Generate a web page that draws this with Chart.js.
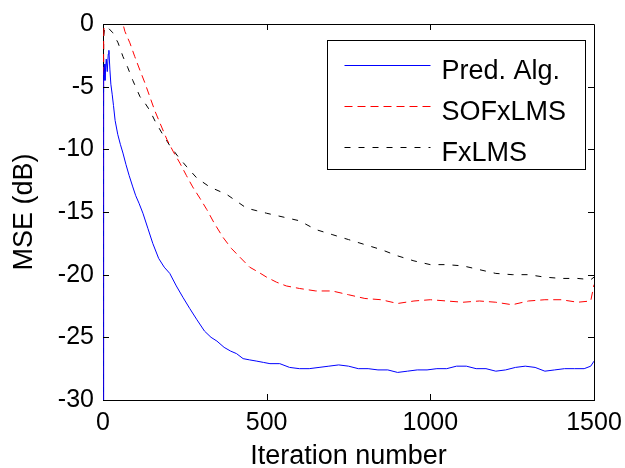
<!DOCTYPE html>
<html>
<head>
<meta charset="utf-8">
<script src="https://cdn.jsdelivr.net/npm/chart.js@4.4.1/dist/chart.umd.min.js"></script>
<style>
  html, body { margin: 0; padding: 0; background: #fff; }
</style>
</head>
<body>
<canvas id="mseChart" width="625" height="468"></canvas>
<script>
const FONT = '"Liberation Sans", Arial, Helvetica, sans-serif';

// Pred. Alg. (blue)
const predIter = [0, 2, 4, 6, 8, 10, 13, 16, 18, 21, 24, 28, 32, 37, 45, 53, 61, 70, 80, 91,
  100, 110, 122, 137, 152, 170, 187, 204, 224, 244, 265, 287, 310, 330, 348, 370, 390, 408,
  428, 448, 470, 490, 510, 540, 570, 600, 630, 660, 690, 720, 750, 780, 810, 840, 870, 900,
  930, 960, 990, 1020, 1050, 1080, 1110, 1140, 1170, 1200, 1230, 1260, 1290, 1320, 1350,
  1380, 1410, 1440, 1470, 1490, 1500];
const predMse = [-30, -4, -3.2, -4.5, -3.5, -2.8, -3.8, -2.4, -2.1, -3.6, -4.8, -5.6, -6.5,
  -7.7, -8.8, -9.6, -10.3, -11.2, -12.1, -13.0, -13.7, -14.3, -15.1, -16.3, -17.5, -18.7,
  -19.4, -19.9, -20.9, -21.8, -22.7, -23.6, -24.5, -25.0, -25.3, -25.8, -26.1, -26.3, -26.7,
  -26.8, -26.9, -27.0, -27.1, -27.1, -27.4, -27.5, -27.5, -27.4, -27.3, -27.2, -27.3, -27.5,
  -27.5, -27.6, -27.6, -27.8, -27.7, -27.6, -27.6, -27.5, -27.5, -27.3, -27.3, -27.5, -27.5,
  -27.7, -27.6, -27.4, -27.3, -27.4, -27.7, -27.6, -27.5, -27.5, -27.5, -27.3, -26.9];

// SOFxLMS (red dashed)
const sofIter = [0, 2, 5, 20, 45, 60, 67, 82, 97, 113, 128, 143, 158, 174, 195, 215, 235, 255,
  274, 296, 317, 340, 366, 392, 418, 448, 475, 500, 530, 560, 600, 650, 700, 750, 800, 850,
  900, 950, 1000, 1050, 1100, 1150, 1200, 1250, 1300, 1350, 1400, 1450, 1490, 1500];
const sofMse = [-30, -1, 1, 1, 0.8, 0.1, -0.6, -1.5, -2.6, -3.7, -4.7, -5.8, -6.9, -7.9, -9.2,
  -10.2, -11.1, -12.1, -13.0, -13.9, -14.8, -15.9, -17.0, -17.9, -18.6, -19.4, -19.8, -20.2,
  -20.6, -20.9, -21.1, -21.3, -21.3, -21.6, -21.9, -22.0, -22.3, -22.1, -22.0, -22.1, -22.2,
  -22.1, -22.2, -22.4, -22.1, -22.0, -22.0, -22.2, -22.1, -20.8];

// FxLMS (black dashed)
const fxIter = [0, 2, 5, 12, 30, 46, 61, 76, 91, 113, 128, 143, 160, 180, 204, 230, 256, 287,
  326, 378, 439, 470, 500, 550, 600, 650, 700, 750, 800, 850, 900, 950, 1000, 1050, 1100,
  1150, 1200, 1250, 1300, 1350, 1400, 1450, 1490, 1500];
const fxMse = [-30, -1, -0.3, -0.2, -0.7, -1.5, -2.6, -3.5, -4.5, -5.8, -6.3, -6.9, -7.8, -8.7,
  -9.7, -10.6, -11.4, -12.3, -13.0, -13.6, -14.7, -14.9, -15.1, -15.4, -15.7, -16.4, -16.8,
  -17.2, -17.6, -18.0, -18.5, -18.9, -19.2, -19.2, -19.3, -19.6, -19.9, -20.0, -20.0, -20.2,
  -20.3, -20.3, -20.4, -20.2];

const toPoints = (xs, ys) => xs.map((x, i) => ({ x: x, y: ys[i] }));

// top/right frame, inward ticks and the boxed legend (MATLAB look)
const framePlugin = {
  id: "frame",
  afterDatasetsDraw(chart) {
    const ctx = chart.ctx;
    const a = chart.chartArea;
    const xs = chart.scales.x;
    const ys = chart.scales.y;
    const seg = (x1, y1, x2, y2) => {
      ctx.beginPath();
      ctx.moveTo(x1, y1);
      ctx.lineTo(x2, y2);
      ctx.stroke();
    };
    ctx.save();
    ctx.strokeStyle = "#000";
    ctx.lineWidth = 1;
    ctx.setLineDash([]);
    const top = Math.round(a.top) + 0.5;
    const right = Math.round(a.right) + 0.5;
    seg(a.left, top, right, top);
    seg(right, top, right, a.bottom);
    xs.ticks.forEach((t) => {
      if (t.value <= xs.min || t.value >= xs.max) return;
      const px = Math.round(xs.getPixelForValue(t.value)) + 0.5;
      seg(px, a.bottom, px, a.bottom - 6);
      seg(px, a.top, px, a.top + 6);
    });
    ys.ticks.forEach((t) => {
      if (t.value <= ys.min || t.value >= ys.max) return;
      const py = Math.round(ys.getPixelForValue(t.value)) + 0.5;
      seg(a.left, py, a.left + 6, py);
      seg(a.right, py, a.right - 6, py);
    });

    // legend
    const w = 258, h = 129;
    const x0 = Math.round(a.right) - 9 - w + 0.5;
    const y0 = Math.round(a.top) + 16 + 0.5;
    ctx.fillStyle = "#fff";
    ctx.fillRect(x0, y0, w, h);
    ctx.strokeRect(x0, y0, w, h);
    ctx.font = "27px " + FONT;
    ctx.textBaseline = "alphabetic";
    ctx.textAlign = "left";
    chart.data.datasets.forEach((ds, i) => {
      const ry = Math.round(y0 + 24 + i * 41) + 0.5;
      ctx.strokeStyle = ds.borderColor;
      ctx.setLineDash(ds.borderDash || []);
      seg(x0 + 17, ry, x0 + 103, ry);
      ctx.setLineDash([]);
      ctx.fillStyle = "#000";
      ctx.fillText(ds.label, x0 + 114, ry + 13);
    });
    ctx.restore();
  },
};

new Chart(document.getElementById("mseChart"), {
  type: "line",
  data: {
    datasets: [
      { label: "Pred. Alg.", data: toPoints(predIter, predMse), borderColor: "#0000ff", borderWidth: 1 },
      { label: "SOFxLMS", data: toPoints(sofIter, sofMse), borderColor: "#ff0000", borderWidth: 1, borderDash: [8, 5] },
      { label: "FxLMS", data: toPoints(fxIter, fxMse), borderColor: "#000000", borderWidth: 1, borderDash: [6, 8] },
    ],
  },
  options: {
    responsive: false,
    animation: false,
    layout: { padding: { top: 24, right: 31, left: 0, bottom: 0 } },
    elements: { point: { radius: 0 }, line: { tension: 0 } },
    plugins: { legend: { display: false }, tooltip: { enabled: false } },
    scales: {
      x: {
        type: "linear",
        min: 0,
        max: 1500,
        grid: { display: false, drawTicks: false },
        border: { color: "#000", width: 1 },
        ticks: {
          stepSize: 500,
          color: "#000",
          padding: 8,
          maxRotation: 0,
          font: { family: FONT, size: 25 },
          callback: (v) => String(v),
        },
        title: {
          display: true,
          text: "Iteration number",
          color: "#000",
          font: { family: FONT, size: 27, lineHeight: 1 },
          padding: { top: 0, bottom: -2 },
        },
        afterFit: (s) => {
          s.height = 68;
          s.paddingLeft = 0;
          s.paddingRight = 0;
        },
      },
      y: {
        min: -30,
        max: 0,
        grid: { display: false, drawTicks: false },
        border: { color: "#000", width: 1 },
        ticks: { stepSize: 5, color: "#000", padding: 9, font: { family: FONT, size: 25 } },
        title: {
          display: true,
          text: "MSE (dB)",
          color: "#000",
          font: { family: FONT, size: 27, lineHeight: 1 },
          padding: { top: 11, bottom: 0 },
        },
        afterFit: (s) => {
          s.width = 103;
          s.paddingTop = 0;
          s.paddingBottom = 0;
        },
      },
    },
  },
  plugins: [framePlugin],
});
</script>
</body>
</html>
